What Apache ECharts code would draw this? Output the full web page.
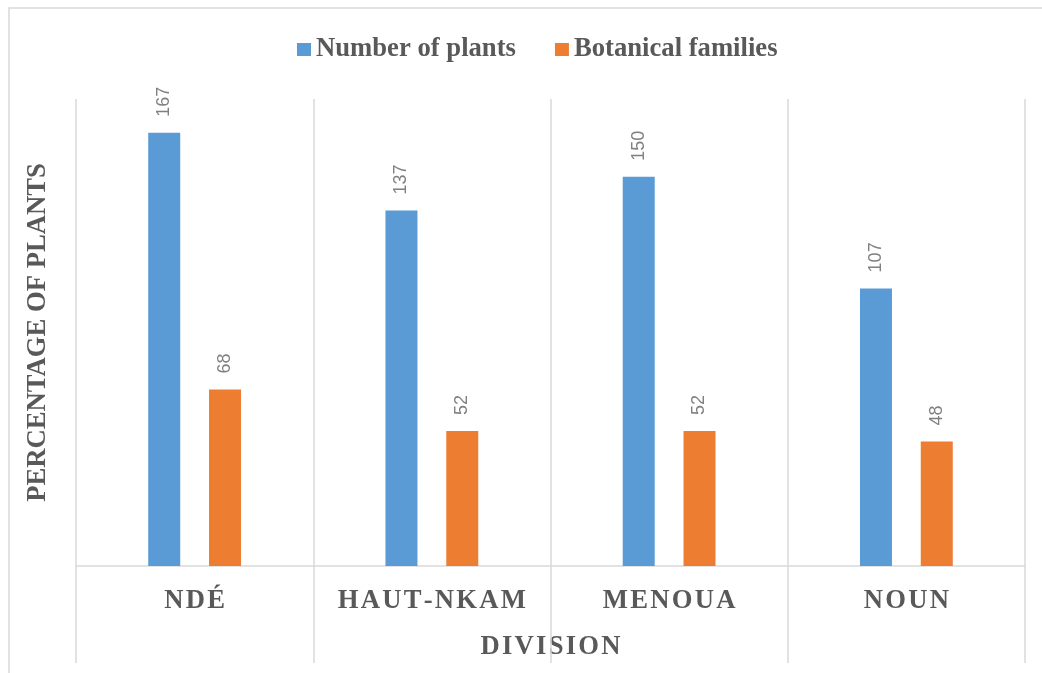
<!DOCTYPE html>
<html>
<head>
<meta charset="utf-8">
<script src="https://cdn.jsdelivr.net/npm/echarts@6/dist/echarts.min.js"></script>
<style>
  html, body { margin: 0; padding: 0; background: #ffffff; }
  #chart { width: 1042px; height: 673px; }
</style>
</head>
<body>
<div id="chart"></div>
<script>
// Divisions surveyed
const divisions = ['NDÉ', 'HAUT-NKAM', 'MENOUA', 'NOUN'];
// Counts per division
const numberOfPlants = [167, 137, 150, 107];
const botanicalFamilies = [68, 52, 52, 48];
// Legend / series names
const seriesNames = ['Number of plants', 'Botanical families'];
const yTitle = 'PERCENTAGE OF PLANTS';
const xTitle = 'DIVISION';

// hair space between letters gives the tracked capitals
const HAIR = '\u200A';
const spaced = (s) => Array.from(s).join(HAIR);

const textGray = '#595959';
const lineGray = '#d9d9d9';
const serif = '"Liberation Serif", "Times New Roman", serif';
const bigFont = 26.67;

const chart = echarts.init(document.getElementById('chart'));

const labelCfg = {
  show: true,
  position: 'top',
  rotate: 90,
  align: 'left',
  verticalAlign: 'middle',
  distance: 16,
  color: '#808080',
  fontSize: 18,
  fontFamily: '"Liberation Sans", Arial, sans-serif'
};

chart.setOption({
  animation: false,
  backgroundColor: '#ffffff',
  graphic: [{
    type: 'rect',
    silent: true,
    shape: { x: 9, y: 8, width: 1100, height: 700 },
    style: { fill: 'none', stroke: lineGray, lineWidth: 1.5 }
  }],
  legend: {
    top: 36,
    left: 297,
    padding: 0,
    itemWidth: 14,
    itemHeight: 13,
    itemGap: 39,
    icon: 'rect',
    textStyle: {
      color: textGray,
      fontSize: bigFont,
      fontWeight: 'bold',
      fontFamily: serif
    },
    data: seriesNames
  },
  grid: { left: 76, right: 17, top: 99, bottom: 107 },
  xAxis: {
    type: 'category',
    data: divisions.map(spaced),
    name: spaced(xTitle),
    nameLocation: 'middle',
    nameGap: 68,
    nameTextStyle: { color: textGray, fontSize: bigFont, fontWeight: 'bold', fontFamily: serif },
    axisLine: { lineStyle: { color: lineGray, width: 1.5 } },
    axisTick: { show: true, length: 97, interval: 0, lineStyle: { color: lineGray, width: 1.5 } },
    splitLine: { show: true, interval: 0, lineStyle: { color: lineGray, width: 1.5 } },
    axisLabel: { margin: 22, color: textGray, fontSize: bigFont, fontWeight: 'bold', fontFamily: serif, interval: 0 }
  },
  yAxis: {
    type: 'value',
    min: 0,
    max: 180,
    name: yTitle,
    nameLocation: 'middle',
    nameRotate: 90,
    nameGap: 24,
    nameTextStyle: { color: textGray, fontSize: bigFont, fontWeight: 'bold', fontFamily: serif },
    axisLine: { show: false },
    axisTick: { show: false },
    axisLabel: { show: false },
    splitLine: { show: false }
  },
  series: [
    {
      name: seriesNames[0],
      type: 'bar',
      data: numberOfPlants,
      barWidth: 32,
      barGap: '90%',
      itemStyle: { color: '#5b9bd5' },
      label: labelCfg
    },
    {
      name: seriesNames[1],
      type: 'bar',
      data: botanicalFamilies,
      barWidth: 32,
      itemStyle: { color: '#ed7d31' },
      label: labelCfg
    }
  ]
});
</script>
</body>
</html>
